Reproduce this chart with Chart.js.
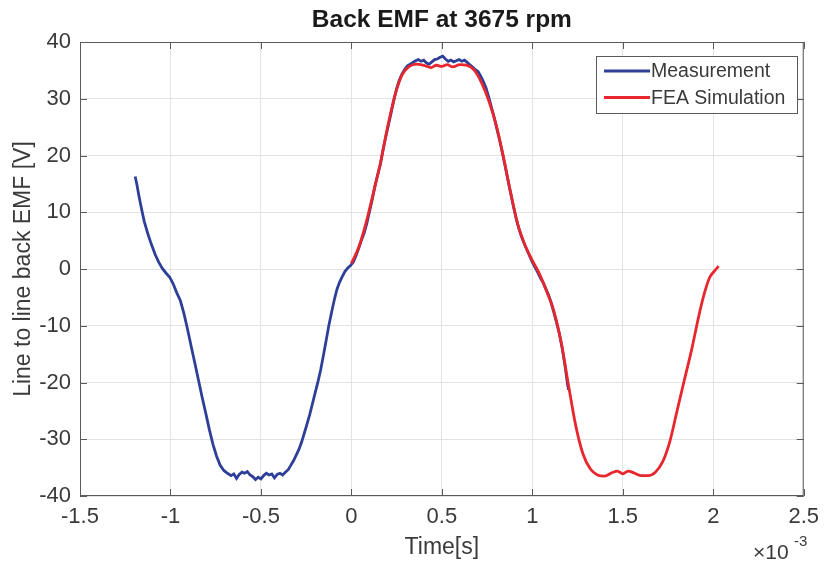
<!DOCTYPE html>
<html>
<head>
<meta charset="utf-8">
<title>Back EMF at 3675 rpm</title>
<script src="https://cdn.jsdelivr.net/npm/chart.js@4/dist/chart.umd.min.js"></script>
<style>
  html, body { margin: 0; padding: 0; background: #fff; }
  #wrap { width: 827px; height: 565px; }
</style>
</head>
<body>
<div id="wrap"><canvas id="emfChart" width="827" height="565"></canvas></div>
<script>
// time axis is in ms (x10^-3 s), values in V
const measTime = [
  -1.195, -1.185, -1.175, -1.160, -1.145, -1.125, -1.105, -1.085, -1.065, -1.045,
  -1.025, -1.005, -0.985, -0.965, -0.945, -0.925, -0.905, -0.885, -0.865, -0.845,
  -0.825, -0.805, -0.785, -0.765, -0.745, -0.725, -0.705, -0.685, -0.665, -0.650,
  -0.635, -0.620, -0.605, -0.590, -0.575, -0.560, -0.545, -0.530, -0.515, -0.500,
  -0.485, -0.470, -0.455, -0.440, -0.425, -0.410, -0.395, -0.380, -0.365, -0.350,
  -0.335, -0.320, -0.305, -0.290, -0.275, -0.260, -0.245, -0.230, -0.215, -0.200,
  -0.185, -0.170, -0.155, -0.140, -0.125, -0.110, -0.095, -0.080, -0.065, -0.050,
  -0.035, -0.020, -0.005, 0.010, 0.025, 0.040, 0.055, 0.070, 0.085, 0.100,
  0.115, 0.130, 0.145, 0.160, 0.175, 0.190, 0.205, 0.220, 0.235, 0.250,
  0.265, 0.280, 0.295, 0.310, 0.325, 0.340, 0.355, 0.370, 0.385, 0.400,
  0.415, 0.430, 0.445, 0.460, 0.475, 0.490, 0.505, 0.520, 0.535, 0.550,
  0.565, 0.580, 0.595, 0.610, 0.625, 0.640, 0.655, 0.670, 0.685, 0.700,
  0.715, 0.730, 0.745, 0.760, 0.775, 0.790, 0.805, 0.820, 0.835, 0.850,
  0.865, 0.880, 0.895, 0.910, 0.925, 0.940, 0.955, 0.970, 0.985, 1.000,
  1.015, 1.030, 1.045, 1.060, 1.075, 1.090, 1.105, 1.120, 1.135, 1.150,
  1.165, 1.180, 1.195, 1.200
];
const measEmf = [
  16.3, 14.8, 13.0, 10.6, 8.4, 6.2, 4.3, 2.6, 1.2, 0.1,
  -0.7, -1.4, -2.6, -4.2, -5.6, -7.9, -10.7, -13.7, -16.6, -19.6,
  -22.6, -25.4, -28.3, -30.9, -33.0, -34.6, -35.5, -36.0, -36.4, -36.1,
  -36.9, -36.2, -35.8, -36.0, -35.7, -36.3, -36.6, -37.1, -36.7, -37.0,
  -36.4, -36.0, -36.3, -36.1, -36.8, -36.2, -36.0, -36.3, -35.8, -35.4,
  -34.6, -33.8, -32.8, -31.8, -30.5, -28.9, -27.3, -25.6, -23.7, -21.8,
  -19.9, -17.8, -15.3, -12.7, -10.0, -7.7, -5.5, -3.6, -2.3, -1.3,
  -0.4, 0.2, 0.6, 1.2, 2.3, 3.6, 5.0, 6.3, 8.0, 10.1,
  12.2, 14.6, 16.6, 18.4, 21.0, 23.3, 25.4, 27.6, 29.8, 31.8,
  33.3, 34.4, 35.2, 35.8, 36.1, 36.4, 36.7, 36.9, 36.6, 36.8,
  36.3, 36.1, 36.5, 36.9, 37.0, 37.3, 37.5, 37.0, 36.6, 36.8,
  36.5, 36.7, 36.9, 36.6, 36.8, 36.4, 36.0, 35.6, 35.1, 34.8,
  34.0, 33.0, 31.8, 30.2, 28.4, 26.6, 24.6, 22.6, 20.4, 18.1,
  15.7, 13.4, 11.1, 9.0, 7.2, 5.7, 4.5, 3.4, 2.3, 1.2,
  0.3, -0.6, -1.6, -2.4, -3.5, -4.6, -6.0, -7.8, -9.6, -11.5,
  -13.9, -16.9, -20.4, -21.3
];

const feaTime = [
  0.000, 0.040, 0.080, 0.120, 0.160, 0.200, 0.240, 0.280, 0.320, 0.360,
  0.400, 0.440, 0.470, 0.500, 0.530, 0.560, 0.600, 0.640, 0.680, 0.720,
  0.760, 0.800, 0.840, 0.880, 0.920, 0.960, 1.000, 1.040, 1.080, 1.120,
  1.160, 1.200, 1.240, 1.280, 1.320, 1.360, 1.400, 1.440, 1.470, 1.500,
  1.530, 1.560, 1.600, 1.640, 1.680, 1.720, 1.760, 1.800, 1.840, 1.880,
  1.920, 1.950, 1.980, 2.005, 2.030
];
const feaEmf = [
  1.0, 3.8, 8.0, 13.2, 18.6, 25.0, 30.5, 34.2, 35.7, 36.1,
  35.9, 35.5, 35.9, 35.7, 36.0, 35.6, 36.0, 35.9, 35.0, 32.8,
  29.6, 25.4, 19.8, 13.5, 7.8, 4.2, 1.5, -0.9, -4.0, -7.5,
  -13.0, -20.5, -27.6, -32.6, -35.2, -36.3, -36.5, -35.9, -35.6, -36.1,
  -35.6, -35.9, -36.4, -36.4, -35.8, -34.0, -30.4, -25.0, -19.6, -14.3,
  -8.3, -4.4, -1.5, -0.4, 0.5
];

const xTicks = [-1.5, -1, -0.5, 0, 0.5, 1, 1.5, 2, 2.5];
const xTickLabels = ['-1.5', '-1', '-0.5', '0', '0.5', '1', '1.5', '2', '2.5'];
const yTicks = [-40, -30, -20, -10, 0, 10, 20, 30, 40];

const FONT = '"Liberation Sans", Arial, Helvetica, sans-serif';
const TXT = '#3a3a3a';

function toPoints(xs, ys) {
  return xs.map((t, i) => ({ x: t, y: ys[i] }));
}

// title, box with inward ticks, legend and the x10^-3 exponent
const matlabDecor = {
  id: 'matlabDecor',
  afterDraw(chart) {
    const { ctx, chartArea: a, scales: { x, y } } = chart;
    ctx.save();

    ctx.fillStyle = '#1a1a1a';
    ctx.font = 'bold 24.5px ' + FONT;
    ctx.textAlign = 'center';
    ctx.textBaseline = 'middle';
    ctx.fillText('Back EMF at 3675 rpm', (a.left + a.right) / 2, 20);

    ctx.strokeStyle = '#5a5a5a';
    ctx.lineWidth = 1;
    ctx.strokeRect(a.left + 0.5, a.top + 0.5, a.right - a.left - 1, a.bottom - a.top - 1);

    const tl = 7;
    ctx.beginPath();
    x.ticks.forEach(t => {
      const px = Math.round(x.getPixelForValue(t.value)) + 0.5;
      ctx.moveTo(px, a.bottom); ctx.lineTo(px, a.bottom - tl);
      ctx.moveTo(px, a.top); ctx.lineTo(px, a.top + tl);
    });
    y.ticks.forEach(t => {
      const py = Math.round(y.getPixelForValue(t.value)) + 0.5;
      ctx.moveTo(a.left, py); ctx.lineTo(a.left + tl, py);
      ctx.moveTo(a.right, py); ctx.lineTo(a.right - tl, py);
    });
    ctx.stroke();

    // legend
    const lx = 596, ly = 56, lw = 201, lh = 57;
    ctx.fillStyle = '#fff';
    ctx.fillRect(lx, ly, lw, lh);
    ctx.strokeStyle = '#5a5a5a';
    ctx.strokeRect(lx + 0.5, ly + 0.5, lw, lh);
    ctx.font = '19.5px ' + FONT;
    ctx.textAlign = 'left';
    ctx.textBaseline = 'middle';
    chart.data.datasets.forEach((ds, i) => {
      const ry = ly + 15 + i * 26.5;
      ctx.strokeStyle = ds.borderColor;
      ctx.lineWidth = 2.8;
      ctx.beginPath();
      ctx.moveTo(lx + 8, ry); ctx.lineTo(lx + 54, ry);
      ctx.stroke();
      ctx.fillStyle = TXT;
      ctx.fillText(ds.label, lx + 55, ry + 1);
    });

    // exponent label
    ctx.fillStyle = TXT;
    ctx.textBaseline = 'alphabetic';
    ctx.font = '21px ' + FONT;
    ctx.fillText('\u00d710', 753, 559);
    ctx.font = '15px ' + FONT;
    ctx.fillText('-3', 794, 546);

    ctx.restore();
  }
};

new Chart(document.getElementById('emfChart'), {
  type: 'line',
  data: {
    datasets: [
      {
        label: 'Measurement',
        data: toPoints(measTime, measEmf),
        borderColor: '#2e3f98',
        borderWidth: 2.8,
        pointRadius: 0,
        tension: 0,
        fill: false,
        order: 2
      },
      {
        label: 'FEA Simulation',
        data: toPoints(feaTime, feaEmf),
        borderColor: '#e8262d',
        borderWidth: 2.8,
        pointRadius: 0,
        tension: 0.4,
        cubicInterpolationMode: 'monotone',
        fill: false,
        order: 1
      }
    ]
  },
  options: {
    responsive: false,
    animation: false,
    layout: { padding: { top: 42, right: 16, left: 0, bottom: 0 } },
    plugins: {
      legend: { display: false },
      title: { display: false },
      tooltip: { enabled: false }
    },
    scales: {
      x: {
        type: 'linear',
        min: -1.5,
        max: 2.5,
        afterBuildTicks: s => { s.ticks = xTicks.map(v => ({ value: v })); },
        afterFit: s => { s.height = 69; },
        grid: { color: '#e3e3e3', drawTicks: false },
        border: { display: false },
        ticks: {
          padding: 8,
          color: TXT,
          font: { family: FONT, size: 22 },
          callback: v => xTickLabels[xTicks.indexOf(v)]
        },
        title: {
          display: true,
          text: 'Time[s]',
          color: TXT,
          font: { family: FONT, size: 23 },
          padding: { top: 0, bottom: 4 }
        }
      },
      y: {
        min: -40,
        max: 40,
        afterBuildTicks: s => { s.ticks = yTicks.map(v => ({ value: v })); },
        afterFit: s => { s.width = 80; },
        grid: { color: '#e3e3e3', drawTicks: false },
        border: { display: false },
        ticks: {
          padding: 9,
          color: TXT,
          font: { family: FONT, size: 22 }
        },
        title: {
          display: true,
          text: 'Line to line back EMF [V]',
          color: TXT,
          font: { family: FONT, size: 23 },
          padding: { top: 10, bottom: 0 }
        }
      }
    }
  },
  plugins: [matlabDecor]
});
</script>
</body>
</html>
